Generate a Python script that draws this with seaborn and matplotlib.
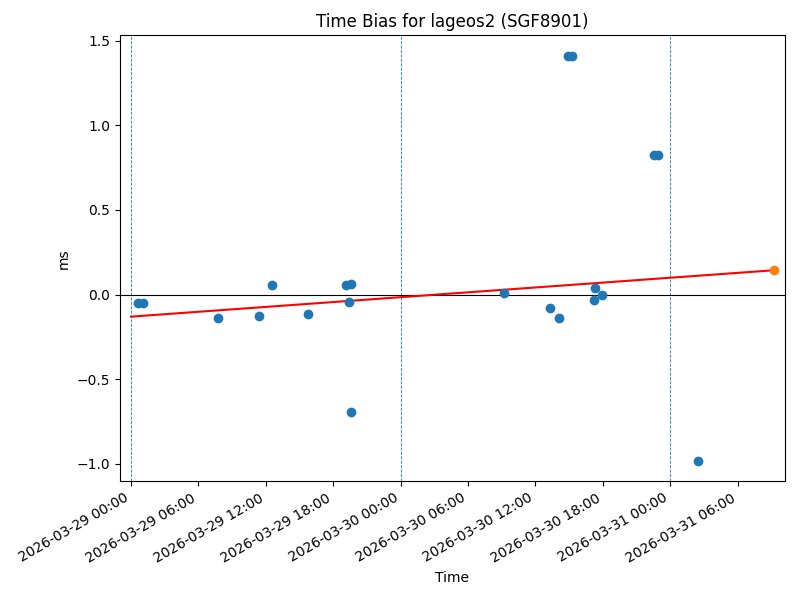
import matplotlib
matplotlib.use("Agg")
import matplotlib.pyplot as plt
import matplotlib.dates as mdates
import seaborn as sns
import pandas as pd
import numpy as np

# Observed time-bias points (hours after 2026-03-29 00:00, ms)
obs_hours = [0.62, 1.07, 7.74, 11.42, 12.52, 15.78, 19.18, 19.58, 19.43, 19.61,
             33.20, 37.29, 38.12, 38.90, 39.25, 41.33, 41.92, 41.21,
             46.55, 46.91, 50.49]
obs_bias_ms = [-0.050, -0.050, -0.139, -0.125, 0.058, -0.113, 0.055, 0.061, -0.044, -0.694,
               0.009, -0.080, -0.139, 1.411, 1.411, 0.038, -0.003, -0.033,
               0.824, 0.824, -0.982]

# Predicted point
pred_hours = [57.26]
pred_bias_ms = [0.147]

# Linear fit endpoints
fit_hours = [0.0, 57.26]
fit_bias_ms = [-0.130, 0.144]

# Day boundaries
day_marks = ["2026-03-29 00:00", "2026-03-30 00:00", "2026-03-31 00:00"]

start = pd.Timestamp("2026-03-29 00:00")
def to_time(h):
    return [start + pd.Timedelta(hours=v) for v in h]

obs = pd.DataFrame({"Time": to_time(obs_hours), "ms": obs_bias_ms})
pred = pd.DataFrame({"Time": to_time(pred_hours), "ms": pred_bias_ms})
fit = pd.DataFrame({"Time": to_time(fit_hours), "ms": fit_bias_ms})

fig, ax = plt.subplots(figsize=(8, 6), dpi=100)

for d in day_marks:
    ax.axvline(pd.Timestamp(d), color="C0", linestyle="--", linewidth=0.6)
ax.axhline(0, color="black", linewidth=0.8)

sns.scatterplot(data=obs, x="Time", y="ms", ax=ax, color="C0", s=36,
                edgecolor="C0", linewidth=1, zorder=3)
sns.lineplot(data=fit, x="Time", y="ms", ax=ax, color="red", linewidth=1.5, zorder=2)
sns.scatterplot(data=pred, x="Time", y="ms", ax=ax, color="C1", s=36,
                edgecolor="C1", linewidth=1, zorder=4)

ax.set_xlim(start - pd.Timedelta(hours=0.98), start + pd.Timedelta(hours=58.21))
ax.xaxis.set_major_locator(mdates.HourLocator(byhour=[0, 6, 12, 18]))
ax.xaxis.set_major_formatter(mdates.DateFormatter("%Y-%m-%d %H:%M"))
ax.set_title("Time Bias for lageos2 (SGF8901)")
ax.set_xlabel("Time")
ax.set_ylabel("ms")
fig.autofmt_xdate()
fig.subplots_adjust(left=0.150, right=0.981, top=0.941, bottom=0.198)
fig.savefig("out.png", dpi=100)
